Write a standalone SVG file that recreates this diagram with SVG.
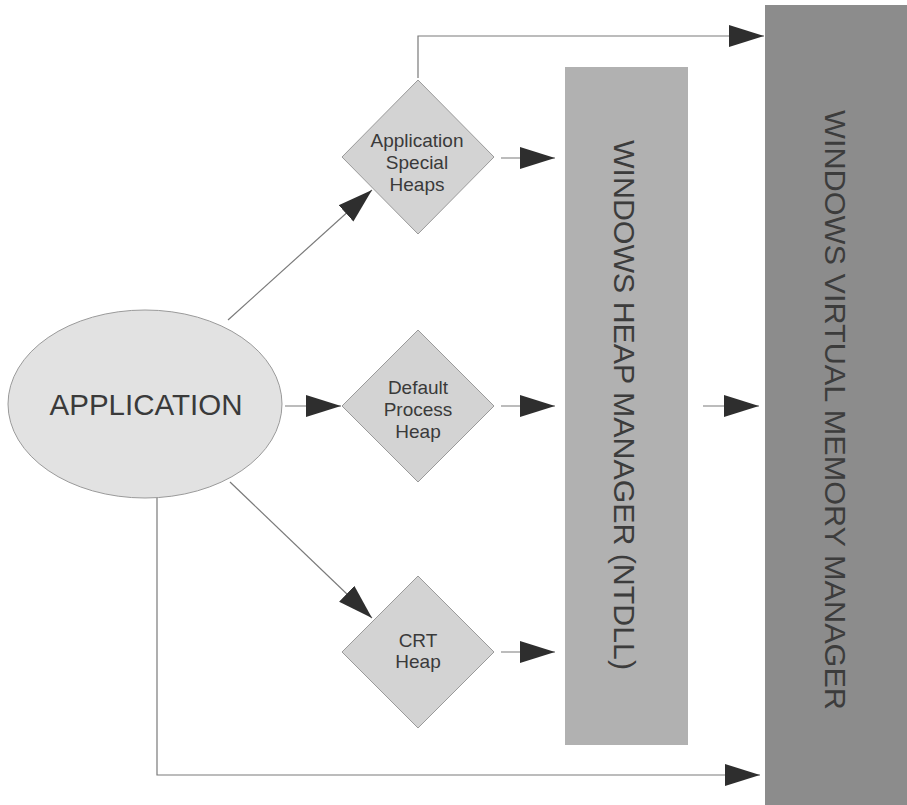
<svg xmlns="http://www.w3.org/2000/svg" width="907" height="805" viewBox="0 0 907 805">
<style>
.conn{stroke:#7a7a7a;stroke-width:1.2;fill:none;marker-end:url(#arr)}
.dia{fill:#d3d3d3;stroke:#9a9a9a;stroke-width:1}
.dt{font-family:"Liberation Sans",Arial,sans-serif;font-size:19px;fill:#3a3a3a;text-anchor:middle}
.bt{font-family:"Liberation Sans",Arial,sans-serif;font-size:30px;fill:#3c3c3c;text-anchor:middle}
</style>
<defs>
<marker id="arr" markerUnits="userSpaceOnUse" markerWidth="36" markerHeight="24" refX="35" refY="12" orient="auto" viewBox="0 0 36 24">
<path d="M0,1 L35,12 L0,23 Z" fill="#2e2e2e"/>
</marker>
</defs>
<rect width="907" height="805" fill="#ffffff"/>
<g id="vmm">
<rect x="765" y="5" width="142" height="800" fill="#8c8c8c"/>
<text class="bt" transform="translate(825,410) rotate(90)" textLength="600" lengthAdjust="spacingAndGlyphs">WINDOWS VIRTUAL MEMORY MANAGER</text>
</g>
<g id="heapmgr">
<rect x="565" y="67" width="123" height="678" fill="#b1b1b1"/>
<text class="bt" transform="translate(614,405) rotate(90)" textLength="530" lengthAdjust="spacingAndGlyphs">WINDOWS HEAP MANAGER (NTDLL)</text>
</g>
<g id="application">
<ellipse cx="145" cy="404" rx="137" ry="94" fill="#e2e2e2" stroke="#9a9a9a" stroke-width="1"/>
<text x="146" y="415" font-family="Liberation Sans, Arial, sans-serif" font-size="29.5" fill="#3a3a3a" text-anchor="middle">APPLICATION</text>
</g>
<g id="special">
<polygon class="dia" points="418,80 494,157 418,234 342,157"/>
<text class="dt" x="417" y="147">Application</text>
<text class="dt" x="417" y="169">Special</text>
<text class="dt" x="417" y="191">Heaps</text>
</g>
<g id="default">
<polygon class="dia" points="418,330 494,406 418,482 342,406"/>
<text class="dt" x="418" y="394">Default</text>
<text class="dt" x="418" y="416">Process</text>
<text class="dt" x="418" y="438">Heap</text>
</g>
<g id="crt">
<polygon class="dia" points="418,576 494,652 418,728 342,652"/>
<text class="dt" x="418" y="647">CRT</text>
<text class="dt" x="418" y="668">Heap</text>
</g>
<g id="connectors">
<path class="conn" d="M418,78 L418,36 L764,36"/>
<path class="conn" d="M228,320 L372,190"/>
<path class="conn" d="M230,482 L372,618"/>
<path class="conn" d="M285,406 L341,406"/>
<path class="conn" d="M501,158 L555,158"/>
<path class="conn" d="M501,406 L555,406"/>
<path class="conn" d="M501,652 L555,652"/>
<path class="conn" d="M703,406 L759,406"/>
<path class="conn" d="M157,498 L157,775 L760,775"/>
</g>
</svg>
